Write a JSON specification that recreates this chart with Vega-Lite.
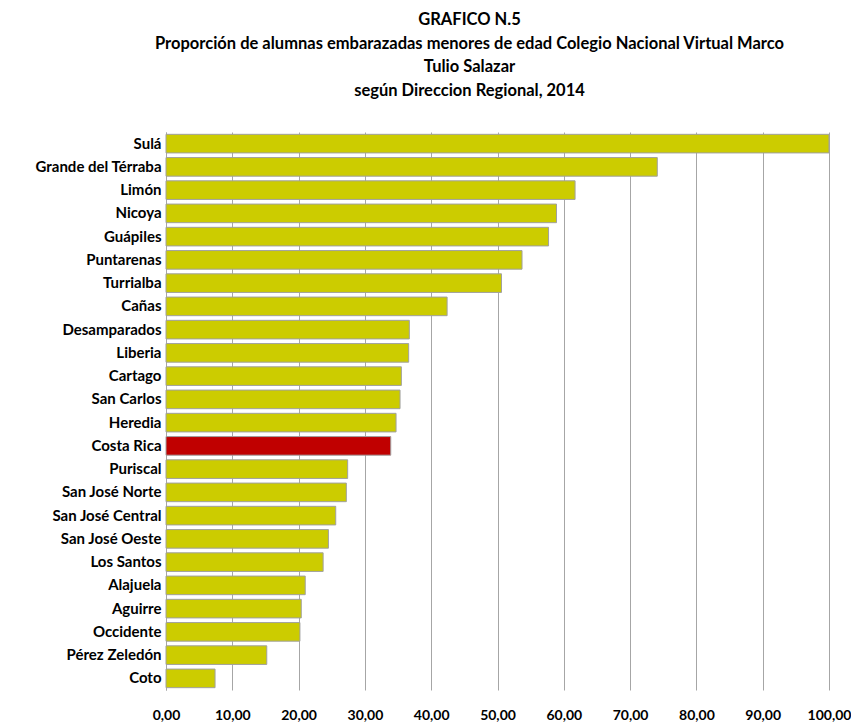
{
  "$schema": "https://vega.github.io/schema/vega-lite/v6.json",
  "autosize": {"type": "none"},
  "padding": {"left": 166, "top": 132, "right": 22, "bottom": 36},
  "width": 663,
  "height": 558,
  "background": "white",
  "title": {
    "text": ["GRAFICO N.5", "Proporción de alumnas embarazadas menores de edad Colegio Nacional  Virtual Marco", "Tulio Salazar", "según Direccion Regional, 2014"],
    "font": "Lato",
    "fontSize": 16.5,
    "fontWeight": "bold",
    "color": "#000000",
    "lineHeight": 23.5,
    "anchor": "middle",
    "dx": -28,
    "offset": 33
  },
  "data": {
    "values": [
      {"region": "Sulá", "valor": 100.0},
      {"region": "Grande del Térraba", "valor": 74.1},
      {"region": "Limón", "valor": 61.7},
      {"region": "Nicoya", "valor": 58.9},
      {"region": "Guápiles", "valor": 57.7},
      {"region": "Puntarenas", "valor": 53.7},
      {"region": "Turrialba", "valor": 50.6},
      {"region": "Cañas", "valor": 42.4},
      {"region": "Desamparados", "valor": 36.7},
      {"region": "Liberia", "valor": 36.6},
      {"region": "Cartago", "valor": 35.5},
      {"region": "San Carlos", "valor": 35.3},
      {"region": "Heredia", "valor": 34.7},
      {"region": "Costa Rica", "valor": 33.9},
      {"region": "Puriscal", "valor": 27.4},
      {"region": "San José Norte", "valor": 27.2},
      {"region": "San José Central", "valor": 25.6},
      {"region": "San José Oeste", "valor": 24.5},
      {"region": "Los Santos", "valor": 23.7},
      {"region": "Alajuela", "valor": 21.0},
      {"region": "Aguirre", "valor": 20.4},
      {"region": "Occidente", "valor": 20.2},
      {"region": "Pérez Zeledón", "valor": 15.2},
      {"region": "Coto", "valor": 7.4}
    ]
  },
  "mark": {"type": "bar", "stroke": "#a0a0a0", "strokeWidth": 1},
  "encoding": {
    "y": {
      "field": "region",
      "type": "nominal",
      "sort": null,
      "title": null,
      "scale": {"paddingInner": 0.2, "paddingOuter": 0.1},
      "axis": {
        "labelFont": "Lato",
        "labelFontSize": 15,
        "labelFontWeight": "bold",
        "labelColor": "#000000",
        "labelPadding": 5,
        "ticks": false,
        "domain": true,
        "domainColor": "#a6a6a6",
        "domainWidth": 1,
        "grid": false
      }
    },
    "x": {
      "field": "valor",
      "type": "quantitative",
      "title": null,
      "scale": {"domain": [0, 100], "nice": false},
      "axis": {
        "values": [0, 10, 20, 30, 40, 50, 60, 70, 80, 90, 100],
        "labelExpr": "replace(format(datum.value, '.2f'), '.', ',')",
        "labelFont": "Lato",
        "labelFontSize": 14,
        "labelFontWeight": "bold",
        "labelColor": "#000000",
        "labelPadding": 18,
        "labelFlush": false,
        "labelOverlap": false,
        "ticks": false,
        "domain": false,
        "grid": true,
        "gridColor": "#a6a6a6",
        "gridWidth": 1
      }
    },
    "fill": {
      "condition": {"test": "datum.region === 'Costa Rica'", "value": "#C00000"},
      "value": "#CCCC00"
    }
  },
  "config": {"view": {"stroke": null}}
}
